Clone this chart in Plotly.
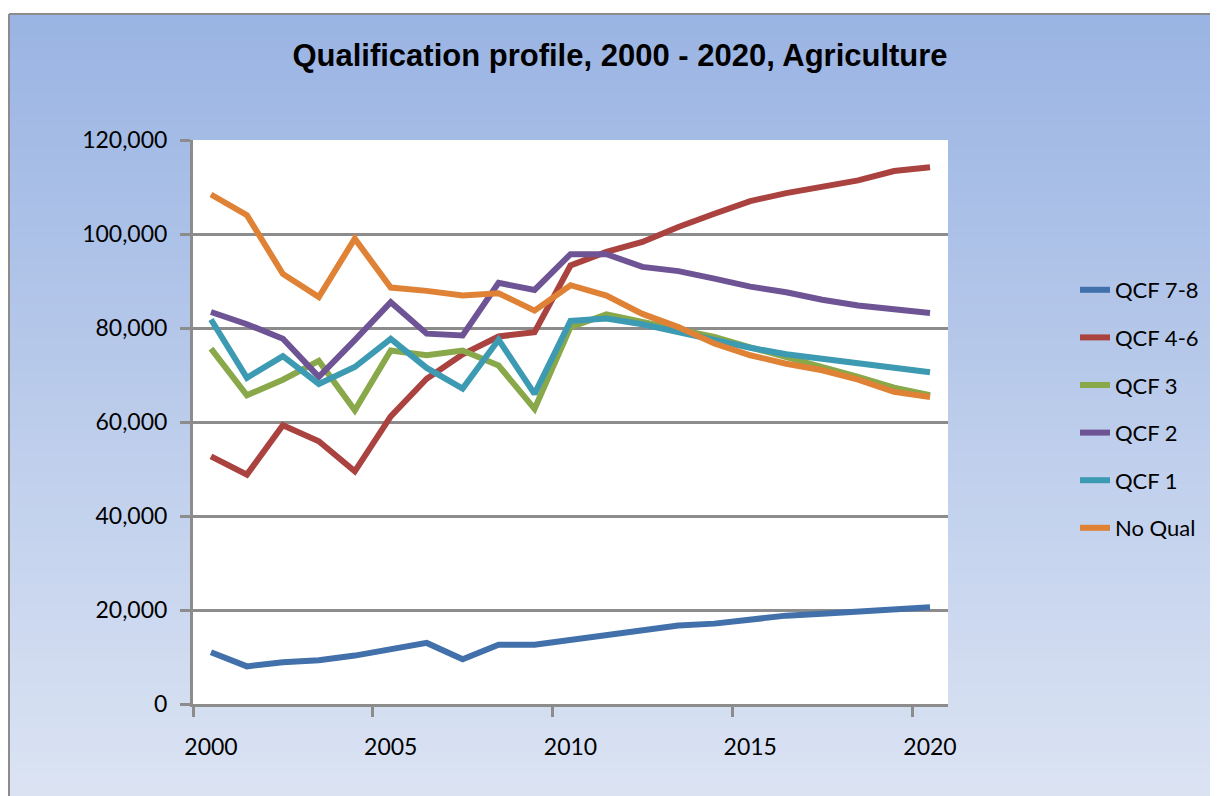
import plotly.graph_objects as go

# data
years = list(range(2000, 2021))

qcf_78 = [11000, 8000, 8900, 9300, 10300, 11500, 13000, 9500, 12600, 12600, 13700,
          14800, 15800, 16700, 17100, 17900, 18800, 19200, 19600, 20300, 20600]
qcf_46 = [52700, 48800, 59300, 55900, 49500, 61200, 69200, 74400, 78200, 79100, 93300,
          96200, 98300, 101500, 104300, 107000, 108700, 110100, 111400, 113400, 114200]
qcf_3 = [75600, 65700, 69000, 73000, 62500, 75200, 74200, 75200, 72000, 62800, 80200,
         82900, 81300, 79800, 78100, 75900, 73800, 72000, 69600, 67300, 65700]
qcf_2 = [83400, 80800, 77700, 69600, 77400, 85500, 78800, 78400, 89600, 88100, 95700,
         95700, 93000, 92100, 90500, 88800, 87600, 86000, 84800, 84000, 83200]
qcf_1 = [81800, 69400, 74000, 68100, 71700, 77700, 71500, 67100, 77500, 66000, 81500,
         82000, 80800, 79100, 77400, 75800, 74400, 73400, 72700, 71500, 70600]
no_qual = [108400, 104000, 91500, 86600, 99000, 88600, 87900, 86900, 87400, 83700, 89100,
           86900, 83000, 80200, 76700, 74200, 72400, 71000, 69000, 66400, 65300]

series = [
    ("QCF 7-8", qcf_78, "#4170AA"),
    ("QCF 4-6", qcf_46, "#AA4240"),
    ("QCF 3", qcf_3, "#88A84A"),
    ("QCF 2", qcf_2, "#6E5494"),
    ("QCF 1", qcf_1, "#3D9AB3"),
    ("No Qual", no_qual, "#DF8236"),
]

# the page body has an 8px margin, so the figure is drawn 8px in from the corner
OFF = 8
W, H = 1218 - OFF, 796 - OFF
ML, MR, MT, MB = 193 - OFF, 270, 140 - OFF, 92
PW, PH = W - ML - MR, H - MT - MB

def px_x(p):
    # page pixel -> paper x
    return (p - OFF - ML) / PW

def px_y(p):
    # page pixel -> paper y
    return (H - MB - (p - OFF)) / PH

fig = go.Figure()

for i, (name, vals, col) in enumerate(series):
    fig.add_trace(go.Scatter(x=years, y=vals, name=name, mode="lines",
                             legendgroup=str(i),
                             line=dict(color=col, width=6)))

# background gradient of the chart frame
shapes = []
top_c = (154, 180, 227)
bot_c = (219, 227, 243)
n = 70
y_top, y_bot = 14, 796
for k in range(n):
    t = k / (n - 1)
    c = tuple(round(a + (b - a) * t) for a, b in zip(top_c, bot_c))
    p0 = y_top + (y_bot - y_top) * k / n
    p1 = y_top + (y_bot - y_top) * (k + 1) / n + 1
    shapes.append(dict(type="rect", xref="paper", yref="paper", layer="below",
                       x0=px_x(9), x1=px_x(1218), y0=px_y(p1), y1=px_y(p0),
                       line=dict(width=0), fillcolor="rgb(%d,%d,%d)" % c))
shapes.append(dict(type="rect", xref="paper", yref="paper", layer="below",
                   x0=0, x1=1, y0=0, y1=1, line=dict(width=0), fillcolor="white"))
shapes.append(dict(type="line", xref="paper", yref="paper", layer="below",
                   x0=px_x(9), x1=px_x(1218), y0=px_y(14), y1=px_y(14),
                   line=dict(color="#8C8C8C", width=2)))
shapes.append(dict(type="line", xref="paper", yref="paper", layer="below",
                   x0=px_x(9), x1=px_x(9), y0=px_y(14), y1=px_y(796),
                   line=dict(color="#8C8C8C", width=2)))

fig.update_layout(
    width=W, height=H,
    margin=dict(l=ML, r=MR, t=MT, b=MB),
    paper_bgcolor="white",
    plot_bgcolor="white",
    shapes=shapes,
    font=dict(family="Lato", size=23, color="black"),
    title=dict(text="<b>Qualification profile, 2000 - 2020, Agriculture</b>",
               font=dict(family="Liberation Sans", size=31, color="black"),
               x=(620 - OFF) / W, xanchor="center", xref="container",
               y=1 - (55 - OFF) / H, yanchor="middle", yref="container"),
    legend=dict(x=px_x(1075), xanchor="left", y=px_y(269), yanchor="top",
                bgcolor="rgba(0,0,0,0)", traceorder="grouped", tracegroupgap=16,
                font=dict(family="Lato", size=22)),
    showlegend=True,
)

fig.update_xaxes(
    range=[1999.5, 2020.5],
    tickvals=[2000, 2005, 2010, 2015, 2020],
    ticks="", showgrid=False,
    showline=True, linecolor="#8C8C8C", linewidth=3,
    ticklabelstandoff=20,
    minor=dict(tickvals=[1999.5, 2004.5, 2009.5, 2014.5, 2019.5],
               ticks="outside", ticklen=10, tickwidth=3, tickcolor="#8C8C8C",
               showgrid=False),
)
fig.update_yaxes(
    range=[0, 120000], dtick=20000, tickformat=",",
    showgrid=True, gridcolor="#8C8C8C", gridwidth=3,
    showline=True, linecolor="#8C8C8C", linewidth=3,
    ticks="outside", ticklen=10, tickwidth=3, tickcolor="#8C8C8C",
    ticklabelstandoff=8, zeroline=False,
)

fig.write_html("out.html")
